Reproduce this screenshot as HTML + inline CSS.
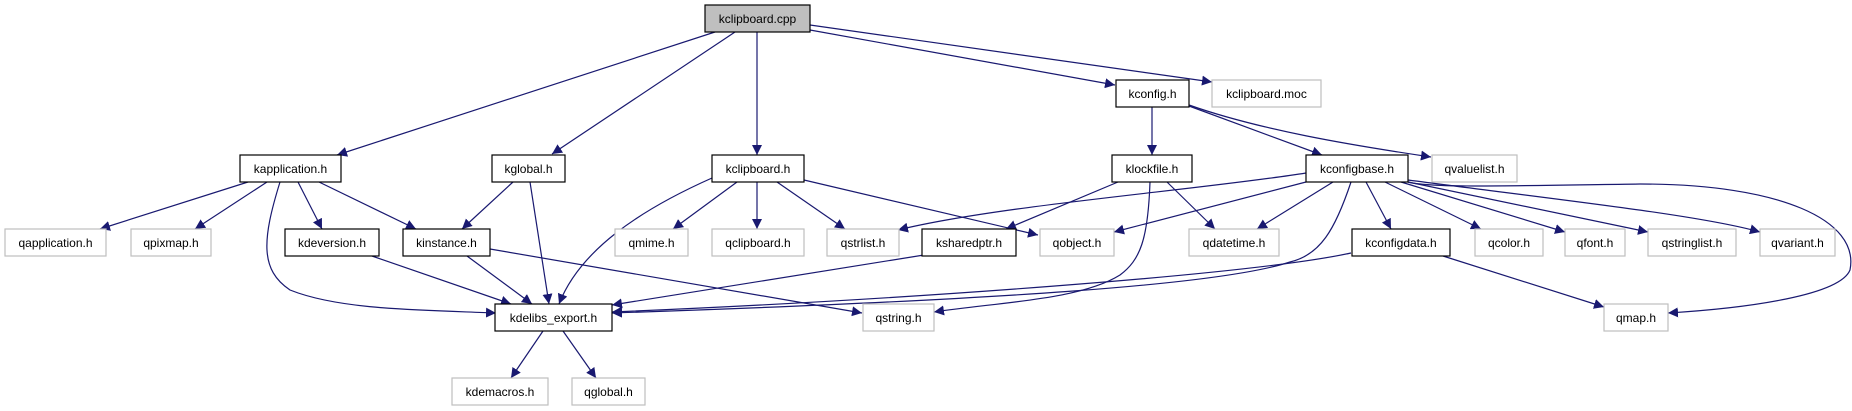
<!DOCTYPE html>
<html><head><meta charset="utf-8"><style>
html,body{margin:0;padding:0;background:#fff;}
svg{display:block;}
text{font-family:"Liberation Sans",sans-serif;font-size:12px;fill:#000;}
</style></head><body>
<svg width="1852" height="411" viewBox="0 0 1852 411" xmlns="http://www.w3.org/2000/svg">
<defs>
<marker id="a" viewBox="0 0 10 10" refX="10" refY="5" markerWidth="10" markerHeight="10" markerUnits="userSpaceOnUse" orient="auto">
<path d="M0,0 L10,5 L0,10 z" fill="#191970"/>
</marker>
</defs>
<g fill="none" stroke="#191970" stroke-width="1.2" marker-end="url(#a)">
<path d="M715,32 L337,155"/>
<path d="M735,32 L552,154"/>
<path d="M757,32 L757,155"/>
<path d="M810,30 L1115,85"/>
<path d="M810,25 L1212,82"/>
<path d="M248,182 L100,229"/>
<path d="M267,182 L195,229"/>
<path d="M298,182 L322,229"/>
<path d="M319,182 L416,229"/>
<path d="M280,182 C262,240 260,270 290,290 C340,310 420,310 496,313"/>
<path d="M513,182 L462,229"/>
<path d="M530,182 L549,304"/>
<path d="M712,178 C640,210 580,250 559,304"/>
<path d="M737,182 L673,229"/>
<path d="M757,182 L757,229"/>
<path d="M777,182 L845,229"/>
<path d="M804,180 L1038,235"/>
<path d="M372,256 L511,304"/>
<path d="M467,256 L532,304"/>
<path d="M490,249 L862,313"/>
<path d="M924,255 L612,305"/>
<path d="M1351,182 C1335,230 1320,255 1290,262 C1220,285 1000,300 612,313"/>
<path d="M1351,253 C1250,275 900,300 612,312"/>
<path d="M1150,182 C1148,240 1140,260 1120,275 C1080,300 1000,302 934,312"/>
<path d="M543,331 L511,378"/>
<path d="M563,331 L596,378"/>
<path d="M1152,107 L1152,155"/>
<path d="M1189,106 L1322,155"/>
<path d="M1189,105 C1260,130 1350,145 1431,157"/>
<path d="M1118,182 L1006,229"/>
<path d="M1167,182 L1215,229"/>
<path d="M1306,173 C1200,190 1000,205 898,230"/>
<path d="M1306,182 L1114,232"/>
<path d="M1333,182 L1257,229"/>
<path d="M1366,182 L1391,229"/>
<path d="M1385,182 L1481,229"/>
<path d="M1401,182 L1565,232"/>
<path d="M1408,182 L1648,232"/>
<path d="M1408,180 C1560,200 1700,215 1760,232"/>
<path d="M1408,182 C1430,188 1500,186 1640,184 C1780,184 1860,220 1850,270 C1840,295 1750,308 1668,313"/>
<path d="M1443,256 L1604,307"/>
</g>
<g stroke-width="1.2">
<rect x="705" y="5" width="105" height="27" fill="#bfbfbf" stroke="#000"/>
<rect x="240" y="155" width="101" height="27" fill="#fff" stroke="#000"/>
<rect x="492" y="155" width="73" height="27" fill="#fff" stroke="#000"/>
<rect x="712" y="155" width="92" height="27" fill="#fff" stroke="#000"/>
<rect x="5" y="229" width="101" height="27" fill="#fff" stroke="#bfbfbf"/>
<rect x="131" y="229" width="80" height="27" fill="#fff" stroke="#bfbfbf"/>
<rect x="285" y="229" width="94" height="27" fill="#fff" stroke="#000"/>
<rect x="403" y="229" width="87" height="27" fill="#fff" stroke="#000"/>
<rect x="615" y="229" width="73" height="27" fill="#fff" stroke="#bfbfbf"/>
<rect x="712" y="229" width="92" height="27" fill="#fff" stroke="#bfbfbf"/>
<rect x="827" y="229" width="72" height="27" fill="#fff" stroke="#bfbfbf"/>
<rect x="495" y="304" width="117" height="27" fill="#fff" stroke="#000"/>
<rect x="863" y="304" width="71" height="27" fill="#fff" stroke="#bfbfbf"/>
<rect x="452" y="378" width="96" height="27" fill="#fff" stroke="#bfbfbf"/>
<rect x="572" y="378" width="73" height="27" fill="#fff" stroke="#bfbfbf"/>
<rect x="1116" y="80" width="73" height="27" fill="#fff" stroke="#000"/>
<rect x="1212" y="80" width="109" height="27" fill="#fff" stroke="#bfbfbf"/>
<rect x="1112" y="155" width="80" height="27" fill="#fff" stroke="#000"/>
<rect x="1306" y="155" width="102" height="27" fill="#fff" stroke="#000"/>
<rect x="1432" y="155" width="85" height="27" fill="#fff" stroke="#bfbfbf"/>
<rect x="922" y="229" width="94" height="27" fill="#fff" stroke="#000"/>
<rect x="1040" y="229" width="74" height="27" fill="#fff" stroke="#bfbfbf"/>
<rect x="1189" y="229" width="90" height="27" fill="#fff" stroke="#bfbfbf"/>
<rect x="1352" y="229" width="98" height="27" fill="#fff" stroke="#000"/>
<rect x="1475" y="229" width="68" height="27" fill="#fff" stroke="#bfbfbf"/>
<rect x="1565" y="229" width="60" height="27" fill="#fff" stroke="#bfbfbf"/>
<rect x="1648" y="229" width="88" height="27" fill="#fff" stroke="#bfbfbf"/>
<rect x="1760" y="229" width="75" height="27" fill="#fff" stroke="#bfbfbf"/>
<rect x="1604" y="304" width="64" height="27" fill="#fff" stroke="#bfbfbf"/>
</g>
<g text-anchor="middle">
<text x="757.5" y="23">kclipboard.cpp</text>
<text x="290.5" y="173">kapplication.h</text>
<text x="528.5" y="173">kglobal.h</text>
<text x="758" y="173">kclipboard.h</text>
<text x="55.5" y="247">qapplication.h</text>
<text x="171" y="247">qpixmap.h</text>
<text x="332" y="247">kdeversion.h</text>
<text x="446.5" y="247">kinstance.h</text>
<text x="651.5" y="247">qmime.h</text>
<text x="758" y="247">qclipboard.h</text>
<text x="863" y="247">qstrlist.h</text>
<text x="553.5" y="322">kdelibs_export.h</text>
<text x="898.5" y="322">qstring.h</text>
<text x="500" y="396">kdemacros.h</text>
<text x="608.5" y="396">qglobal.h</text>
<text x="1152.5" y="98">kconfig.h</text>
<text x="1266.5" y="98">kclipboard.moc</text>
<text x="1152" y="173">klockfile.h</text>
<text x="1357" y="173">kconfigbase.h</text>
<text x="1474.5" y="173">qvaluelist.h</text>
<text x="969" y="247">ksharedptr.h</text>
<text x="1077" y="247">qobject.h</text>
<text x="1234" y="247">qdatetime.h</text>
<text x="1401" y="247">kconfigdata.h</text>
<text x="1509" y="247">qcolor.h</text>
<text x="1595" y="247">qfont.h</text>
<text x="1692" y="247">qstringlist.h</text>
<text x="1797.5" y="247">qvariant.h</text>
<text x="1636" y="322">qmap.h</text>
</g>
</svg>
</body></html>
